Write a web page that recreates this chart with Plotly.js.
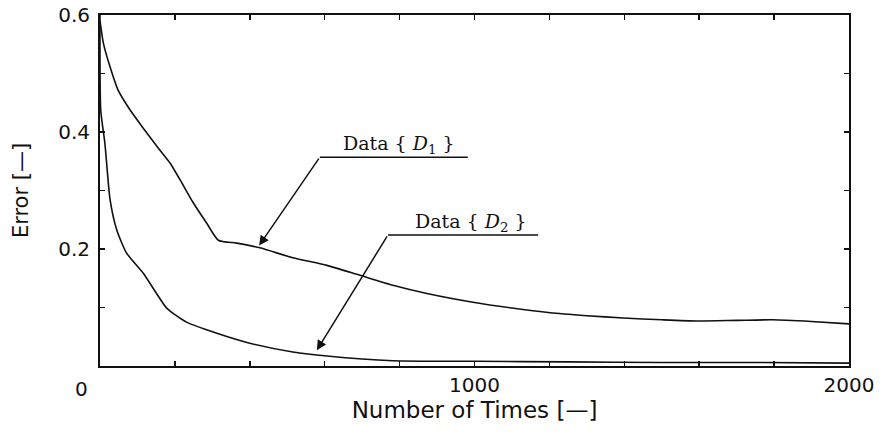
<!DOCTYPE html>
<html><head><meta charset="utf-8">
<script src="https://cdn.plot.ly/plotly-3.0.1.min.js"></script>
<style>html,body{margin:0;padding:0;background:#fff;}</style>
</head><body>
<div id="chart" style="width:883px;height:436px;"></div>
<script>
// Series D1
var d1X = [0, 9, 27, 48, 80, 115, 160, 187, 214, 249, 285, 316, 365, 427, 515, 606, 694, 782, 873, 996, 1100, 1202, 1300, 1397, 1500, 1594, 1700, 1797, 1900, 2000];
var d1Y = [0.59, 0.552, 0.511, 0.472, 0.438, 0.407, 0.369, 0.347, 0.318, 0.279, 0.244, 0.215, 0.210, 0.202, 0.185, 0.172, 0.155, 0.138, 0.124, 0.109, 0.099, 0.091, 0.086, 0.082, 0.079, 0.077, 0.078, 0.079, 0.076, 0.072];
// Series D2
var d2X = [0, 2, 13, 27, 45, 71, 115, 151, 178, 231, 312, 400, 515, 606, 782, 1000, 1250, 1500, 1750, 2000];
var d2Y = [0.60, 0.437, 0.381, 0.284, 0.232, 0.193, 0.159, 0.124, 0.099, 0.075, 0.056, 0.039, 0.024, 0.017, 0.009, 0.008, 0.007, 0.006, 0.006, 0.005];
// Tick labels
var xTickVals = [1000, 2000];
var xTickText = ['1000', '2000'];
var yTickVals = [0.2, 0.4, 0.6];
var yTickText = ['0.2', '0.4', '0.6'];
var originLabel = '0';
// Labels
var seriesNames = ['Data { <i>D</i><sub>1</sub> }', 'Data { <i>D</i><sub>2</sub> }'];

var lineStyle = {color: '#111', width: 1.6, shape: 'spline', smoothing: 0.6};
var traces = [
  {x: d1X, y: d1Y, mode: 'lines', line: lineStyle, name: 'D1', hoverinfo: 'skip'},
  {x: d2X, y: d2Y, mode: 'lines', line: lineStyle, name: 'D2', hoverinfo: 'skip'}
];

var sansFam = '"DejaVu Sans", Verdana, sans-serif';
var tickFont = {family: sansFam, size: 20, color: '#111'};
var serifFont = {family: '"DejaVu Serif", "Liberation Serif", serif', size: 19, color: '#111'};

var layout = {
  width: 883, height: 436,
  margin: {l: 100, r: 34, t: 15, b: 70},
  paper_bgcolor: '#fff', plot_bgcolor: '#fff',
  showlegend: false,
  xaxis: {
    range: [0, 2000], tickvals: xTickVals, ticktext: xTickText,
    ticks: 'inside', ticklen: 5, tickwidth: 1.5, tickcolor: '#111',
    minor: {dtick: 200, tick0: 0, ticks: 'inside', ticklen: 5, tickwidth: 1.5, tickcolor: '#111', showgrid: false},
    showline: true, linewidth: 2, linecolor: '#111', mirror: 'allticks',
    showgrid: false, zeroline: false, tickfont: tickFont,
    title: {text: 'Number of Times [—]', font: {family: sansFam, size: 23, color: '#111'}, standoff: 4}
  },
  yaxis: {
    range: [0, 0.6], tickvals: yTickVals, ticktext: yTickText,
    ticks: 'inside', ticklen: 5, tickwidth: 1.5, tickcolor: '#111',
    minor: {dtick: 0.1, tick0: 0, ticks: 'inside', ticklen: 5, tickwidth: 1.5, tickcolor: '#111', showgrid: false},
    showline: true, linewidth: 2, linecolor: '#111', mirror: 'allticks',
    showgrid: false, zeroline: false, tickfont: tickFont, ticklabelstandoff: 4,
    title: {text: 'Error [—]', font: {family: sansFam, size: 21, color: '#111'}, standoff: 24}
  },
  shapes: [
    {type: 'line', xref: 'x', yref: 'y', x0: 587, y0: 0.357, x1: 982, y1: 0.357, line: {color: '#111', width: 1.5}},
    {type: 'line', xref: 'x', yref: 'y', x0: 769, y0: 0.224, x1: 1170, y1: 0.224, line: {color: '#111', width: 1.5}}
  ],
  annotations: [
    {xref: 'x', yref: 'y', x: 425, y: 0.206, ax: 587, ay: 0.357, axref: 'x', ayref: 'y', text: '',
     showarrow: true, arrowhead: 2, arrowsize: 1.3, arrowwidth: 1.5, arrowcolor: '#111'},
    {xref: 'x', yref: 'y', x: 579, y: 0.027, ax: 769, ay: 0.224, axref: 'x', ayref: 'y', text: '',
     showarrow: true, arrowhead: 2, arrowsize: 1.3, arrowwidth: 1.5, arrowcolor: '#111'},
    {xref: 'x', yref: 'y', x: 798, y: 0.379, text: seriesNames[0], showarrow: false, font: serifFont},
    {xref: 'x', yref: 'y', x: 990, y: 0.246, text: seriesNames[1], showarrow: false, font: serifFont},
    {xref: 'x', yref: 'y', x: 0, y: 0, text: originLabel, showarrow: false, font: tickFont,
     xanchor: 'right', yanchor: 'top', xshift: -10, yshift: -9}
  ]
};

Plotly.newPlot('chart', traces, layout, {staticPlot: true, displayModeBar: false});
</script>
</body></html>
